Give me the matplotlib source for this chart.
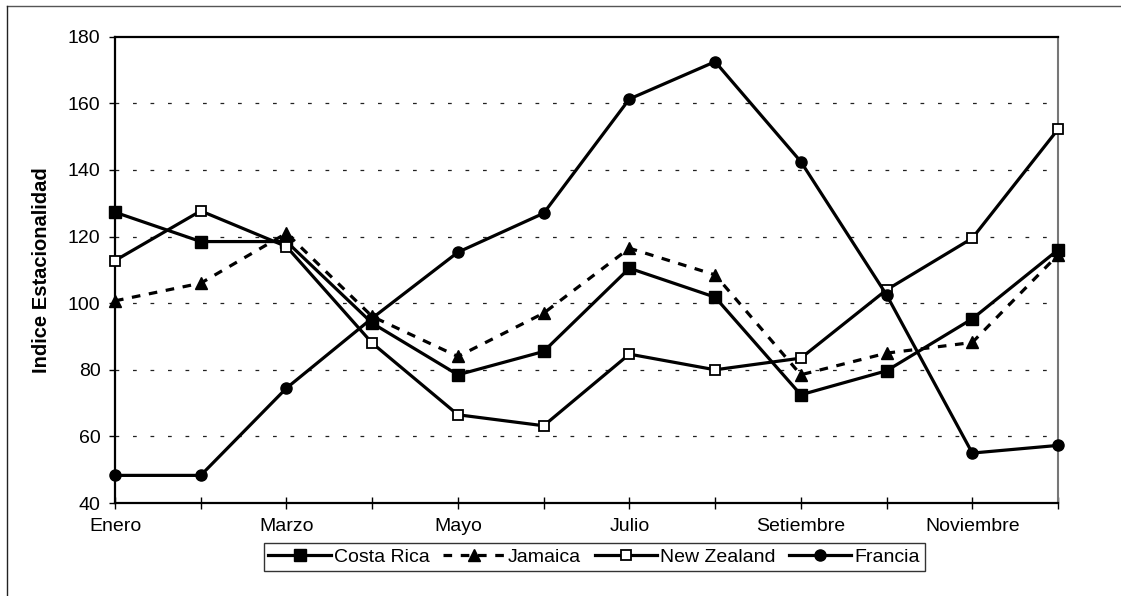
import matplotlib.pyplot as plt
from matplotlib.lines import Line2D

plt.rcParams['font.family'] = ['Liberation Sans', 'DejaVu Sans']

meses = ['Enero', 'Febrero', 'Marzo', 'Abril', 'Mayo', 'Junio', 'Julio',
         'Agosto', 'Setiembre', 'Octubre', 'Noviembre', 'Diciembre']
# only every other month gets a label on the axis
etiquetas = ['Enero', '', 'Marzo', '', 'Mayo', '', 'Julio', '',
             'Setiembre', '', 'Noviembre', '']

costa_rica = [127.3, 118.5, 118.5, 94.0, 78.5, 85.5, 110.5, 101.8, 72.5, 79.7, 95.3, 116.0]
jamaica = [100.7, 106.0, 121.0, 96.0, 84.0, 97.0, 116.5, 108.5, 78.5, 85.0, 88.2, 114.5]
new_zealand = [112.8, 127.7, 117.0, 88.0, 66.5, 63.2, 84.7, 80.0, 83.5, 104.0, 119.5, 152.2]
francia = [48.3, 48.3, 74.5, 95.5, 115.3, 127.0, 161.3, 172.5, 142.5, 102.5, 55.0, 57.3]

fig = plt.figure(figsize=(11.21, 5.96), dpi=100)
ax = fig.add_axes([0.1026, 0.156, 0.8412, 0.7824])

x = list(range(len(meses)))
lw = 2.3
ax.plot(x, costa_rica, color='black', lw=lw, marker='s', ms=8,
        mfc='black', mec='black', label='Costa Rica', zorder=4, clip_on=False)
ax.plot(x, jamaica, color='black', lw=lw, marker='^', ms=8.5,
        mfc='black', mec='black', dashes=(2.7, 2.7), label='Jamaica', zorder=4,
        clip_on=False)
ax.plot(x, new_zealand, color='black', lw=lw, marker='s', ms=6.5,
        mfc='white', mec='black', mew=1.3, label='New Zealand', zorder=4,
        clip_on=False)
ax.plot(x, francia, color='black', lw=lw, marker='o', ms=8,
        mfc='black', mec='black', label='Francia', zorder=4, clip_on=False)

ax.set_xlim(0, len(meses) - 1)
ax.set_ylim(40, 180)
ax.set_yticks(range(40, 181, 20))
ax.set_xticks(x)
ax.set_xticklabels(etiquetas)

# dashed horizontal gridlines
for v in range(60, 180, 20):
    ax.axhline(v, color='#222222', lw=0.9, dashes=(3, 11), zorder=1)

ax.tick_params(axis='x', direction='inout', length=9, width=1, pad=6, labelsize=14)
ax.tick_params(axis='y', direction='out', length=4.5, width=1, pad=6, labelsize=14)

for s in ['left', 'bottom', 'top']:
    ax.spines[s].set_linewidth(1.6)
    ax.spines[s].set_color('black')
ax.spines['right'].set_linewidth(1.5)
ax.spines['right'].set_color('#777777')

ax.set_ylabel('Indice Estacionalidad', fontsize=14.5, fontweight='bold', labelpad=12)

leg = ax.legend(loc='center', bbox_to_anchor=(0.530, 0.0654),
                bbox_transform=fig.transFigure, ncol=4, fontsize=14,
                numpoints=1, handlelength=3.2, handletextpad=0.15,
                columnspacing=0.7, borderpad=0.25, borderaxespad=0,
                fancybox=False, frameon=True)
leg.get_frame().set_edgecolor('black')
leg.get_frame().set_linewidth(1.0)

# chart area border (top and left edges visible)
fig.add_artist(Line2D([7 / 1121, 1], [1 - 6 / 596, 1 - 6 / 596],
                      transform=fig.transFigure, color='#555555', lw=1))
fig.add_artist(Line2D([7 / 1121, 7 / 1121], [0, 1 - 6 / 596],
                      transform=fig.transFigure, color='#222222', lw=1))

fig.savefig('out.png', dpi=100)
